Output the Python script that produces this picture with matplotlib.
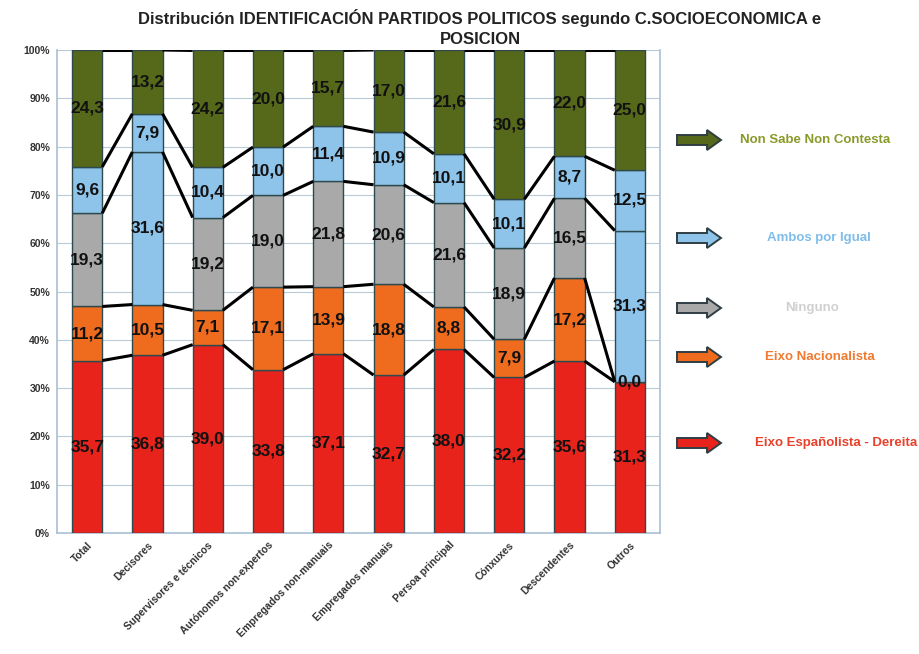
import numpy as np
import matplotlib.pyplot as plt
from matplotlib.patches import FancyArrow

plt.rcParams['font.family'] = ['Liberation Sans', 'DejaVu Sans']

categorias = ["Total", "Decisores", "Supervisores e técnicos", "Autónomos non-expertos",
              "Empregados non-manuais", "Empregados manuais", "Persoa principal",
              "Cónxuxes", "Descendentes", "Outros"]

eixo_espanol = [35.7, 36.8, 39.0, 33.8, 37.1, 32.7, 38.0, 32.2, 35.6, 31.3]
eixo_nacionalista = [11.2, 10.5, 7.1, 17.1, 13.9, 18.8, 8.8, 7.9, 17.2, 0.0]
ninguno = [19.3, 31.6, 19.2, 19.0, 21.8, 20.6, 21.6, 18.9, 16.5, 31.3]
ambos = [9.6, 7.9, 10.4, 10.0, 11.4, 10.9, 10.1, 10.1, 8.7, 12.5]
nsnc = [24.3, 13.2, 24.2, 20.0, 15.7, 17.0, 21.6, 30.9, 22.0, 25.0]

series = [eixo_espanol, eixo_nacionalista, ninguno, ambos, nsnc]
nomes = ["Eixo Españolista - Dereita", "Eixo Nacionalista", "Ninguno",
         "Ambos por Igual", "Non Sabe Non Contesta"]
cores = ["#e8231c", "#ef6c1e", "#a9a9a9", "#8ec3ea", "#56681a"]
cores_txt = ["#e8402a", "#f07a30", "#d0d0d0", "#7fbdea", "#8a9a2a"]

W, H = 919, 654
fig = plt.figure(figsize=(W / 100, H / 100), dpi=100)
ax = fig.add_axes([57 / W, 1 - 533 / H, (660 - 57) / W, (533 - 50) / H])

x = np.arange(len(categorias))
bw = 0.5
bottom = np.zeros(len(categorias))
tops = []
for k, (vals, cor) in enumerate(zip(series, cores)):
    vals = np.array(vals)
    cols = [cor] * len(vals)
    if k == 2:
        # Decisores e Outros aparecen en azul no orixinal
        cols[1] = cores[3]
        cols[9] = cores[3]
    ax.bar(x, vals, bw, bottom=bottom, color=cols, edgecolor="#2e4a4f",
           linewidth=1, zorder=3)
    for i, v in enumerate(vals):
        ax.text(x[i], bottom[i] + v / 2, f"{v:.1f}".replace(".", ","),
                ha="center", va="center", fontsize=12.5, fontweight="bold",
                color="#111111", zorder=5)
    bottom = bottom + vals
    tops.append(bottom.copy())

# liñas de serie entre barras
for t in tops:
    t = np.minimum(t, 100)
    for i in range(len(x) - 1):
        ax.plot([x[i] + bw / 2, x[i + 1] - bw / 2], [t[i], t[i + 1]],
                color="black", lw=2.2, zorder=4, solid_capstyle="butt")

ax.set_xlim(-0.5, len(x) - 0.5)
ax.set_ylim(0, 100)
ax.set_yticks(np.arange(0, 101, 10))
ax.set_yticklabels([f"{v}%" for v in range(0, 101, 10)], fontsize=7.5,
                   fontweight="bold", color="#333333")
ax.set_xticks(x)
ax.set_xticklabels(categorias, rotation=45, ha="right", rotation_mode="anchor",
                   fontsize=7.5, fontweight="bold", color="#333333")
ax.tick_params(length=0, pad=5)
ax.grid(axis="y", color="#b8cad8", lw=0.8, zorder=0)
ax.spines["top"].set_visible(False)
for s in ["left", "right", "bottom"]:
    ax.spines[s].set_color("#a8c0d4")
    ax.spines[s].set_linewidth(1.2)

fig.text(480 / W, 1 - 28 / H,
         "Distribución IDENTIFICACIÓN PARTIDOS POLITICOS segundo C.SOCIOECONOMICA e\nPOSICION",
         ha="center", va="center", fontsize=12, fontweight="bold",
         color="#222222", linespacing=1.35)

# lenda con frechas
lax = fig.add_axes([0, 0, 1, 1], facecolor="none")
lax.set_xlim(0, W)
lax.set_ylim(H, 0)
lax.axis("off")
ley = [443, 357, 308, 238, 140]
tx = [836, 820, 812, 819, 815]
for nome, cor, ct, yy, xx in zip(nomes, cores, cores_txt, ley, tx):
    lax.add_patch(FancyArrow(677, yy, 30, 0, width=10, head_width=20,
                             head_length=14, length_includes_head=False,
                             facecolor=cor, edgecolor="#2e3e44", lw=1.4))
    lax.text(xx, yy, nome, ha="center", va="center", fontsize=9.5,
             fontweight="bold", color=ct)

fig.savefig("out.png", dpi=100)
